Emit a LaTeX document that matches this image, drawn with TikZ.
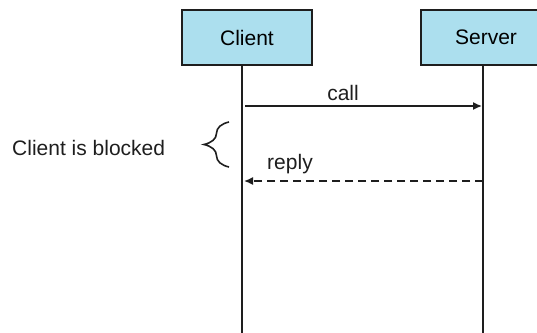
\documentclass[tikz,border=0pt]{standalone}
\usepackage{fontspec}
\setmainfont{Liberation Sans}
\usetikzlibrary{arrows.meta,decorations.pathreplacing}
\definecolor{boxblue}{RGB}{172,223,238}
\definecolor{ink}{RGB}{30,30,30}
\tikzset{
  actor/.style={draw=ink, line width=1.3pt, fill=boxblue, minimum width=130pt, minimum height=55pt, inner sep=0pt, font=\fontsize{21}{25}\selectfont},
  lifeline/.style={draw=ink, line width=1.7pt},
  msg/.style={draw=ink, line width=1.5pt, -{Latex[length=9pt,width=8pt]}},
  lbl/.style={font=\fontsize{21}{25}\selectfont, inner sep=0pt, anchor=base, text=ink}
}
\begin{document}
\begin{tikzpicture}[x=1pt,y=-1pt]
  \useasboundingbox (0,0) rectangle (537,332);
  \clip (0,0) rectangle (537,332);
  \node[actor] (client) at (247,37.5) {Client};
  \node[actor] (server) at (486,37.5) {Server};
  \coordinate (cltop) at (242,65);
  \coordinate (clbot) at (242,333);
  \coordinate (svtop) at (483,65);
  \coordinate (svbot) at (483,333);
  \draw[lifeline] (cltop) -- (clbot);
  \draw[lifeline] (svtop) -- (svbot);
  \coordinate (callstart) at (245,106);
  \coordinate (callend) at (482,106);
  \draw[msg] (callstart) -- (callend);
  \node[lbl] (calllbl) at (343,100) {call};
  \coordinate (replystart) at (483,181);
  \coordinate (replyend) at (244,181);
  \draw[msg, dash pattern=on 8pt off 5pt] (replystart) -- (replyend);
  \node[lbl] (replylbl) at (290,169) {reply};
  \coordinate (bracebot) at (229,167);
  \coordinate (bracetop) at (229,122);
  \draw[draw=ink, line width=1.6pt, decorate, decoration={brace, amplitude=25pt, raise=0pt, aspect=0.5}] (bracebot) -- (bracetop);
  \node[lbl, anchor=base west] (blocked) at (12,155) {Client is blocked};
\end{tikzpicture}
\end{document}
